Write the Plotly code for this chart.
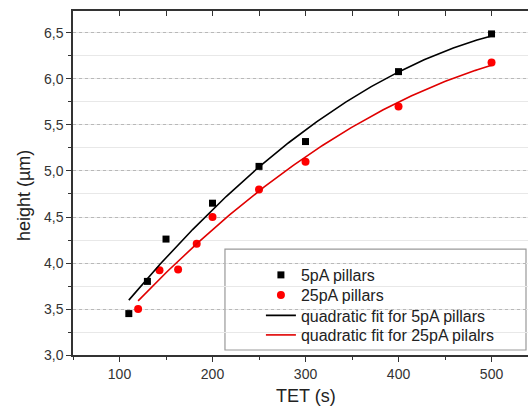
import numpy as np
import plotly.graph_objects as go

# Measured pillar heights versus exposure time
tet_5pa = [110, 130, 150, 200, 250, 300, 400, 500]
height_5pa = [3.45, 3.80, 4.26, 4.65, 5.05, 5.32, 6.08, 6.49]

tet_25pa = [120, 143, 163, 183, 200, 250, 300, 400, 500]
height_25pa = [3.50, 3.92, 3.93, 4.21, 4.50, 4.80, 5.10, 5.70, 6.18]

x_ticks = [100, 200, 300, 400, 500]
y_ticks = [3.0, 3.5, 4.0, 4.5, 5.0, 5.5, 6.0, 6.5]

FONT = "Liberation Sans, Arial, sans-serif"


def quad_fit(x, y):
    coeffs = np.polyfit(x, y, 2)
    xs = np.linspace(min(x), max(x), 200)
    return xs, np.polyval(coeffs, xs)


fit5_x, fit5_y = quad_fit(tet_5pa, height_5pa)
fit25_x, fit25_y = quad_fit(tet_25pa, height_25pa)

fig = go.Figure()
fig.add_trace(go.Scatter(x=tet_5pa, y=height_5pa, mode="markers", name="5pA pillars",
                         legend="legend",
                         marker=dict(symbol="square", size=7, color="black")))
fig.add_trace(go.Scatter(x=tet_25pa, y=height_25pa, mode="markers", name="25pA pillars",
                         legend="legend2",
                         marker=dict(symbol="circle", size=8, color="#ff0000")))
fig.add_trace(go.Scatter(x=fit5_x, y=fit5_y, mode="lines", name="quadratic fit for 5pA pillars",
                         legend="legend3",
                         line=dict(color="black", width=1.6)))
fig.add_trace(go.Scatter(x=fit25_x, y=fit25_y, mode="lines", name="quadratic fit for 25pA pilalrs",
                         legend="legend4",
                         line=dict(color="#e00000", width=1.6)))
# invisible trace carrying the top (mirror) axis
fig.add_trace(go.Scatter(x=[x_ticks[0]], y=[y_ticks[0]], xaxis="x2", mode="markers",
                         marker=dict(opacity=0), showlegend=False, hoverinfo="skip"))

# one legend per entry so the row spacing can be set freely
legend_rows = [0.2326, 0.1744, 0.1148, 0.0581]
legend_style = dict(x=0.413, xanchor="left", yanchor="middle",
                    bgcolor="rgba(0,0,0,0)", borderwidth=0,
                    font=dict(family=FONT, size=16, color="#222"), itemwidth=30)

x_range = [50, 539.2]
fig.update_layout(
    width=528, height=414,
    margin=dict(l=73, r=0, t=11, b=59),
    paper_bgcolor="white", plot_bgcolor="white",
    separators=", ",
    showlegend=True,
    font=dict(family=FONT, size=14, color="#333"),
    xaxis=dict(range=x_range, tickvals=x_ticks, ticks="outside", ticklen=5, tickwidth=1.3,
               tickcolor="#333", showline=True, linecolor="#333", linewidth=1.5,
               showgrid=False, zeroline=False,
               minor=dict(dtick=50, tick0=0, ticks="outside", ticklen=3, tickcolor="#333"),
               tickfont=dict(size=14, color="#333")),
    xaxis2=dict(range=x_range, overlaying="x", side="top", anchor="y", tickvals=x_ticks,
                ticks="inside", ticklen=5, tickwidth=1.3, tickcolor="#333",
                showticklabels=False, showline=True, linecolor="#333", linewidth=1.5,
                showgrid=False, zeroline=False,
                minor=dict(dtick=50, tick0=0, ticks="inside", ticklen=5, tickcolor="#333")),
    yaxis=dict(range=[3.0, 6.739], tickvals=y_ticks, tickformat=".1f", ticks="outside",
               ticklen=5, tickwidth=1.3, tickcolor="#333", showline=True, linecolor="#333",
               linewidth=1.5, zeroline=False,
               showgrid=True, gridcolor="#b8b8b8", griddash="dot", gridwidth=1,
               minor=dict(dtick=0.25, tick0=0, ticks="outside", ticklen=3, tickcolor="#333",
                          showgrid=True, gridcolor="#e8e8e8", griddash="solid", gridwidth=1),
               tickfont=dict(size=14, color="#333")),
    legend=dict(y=legend_rows[0], **legend_style),
    legend2=dict(y=legend_rows[1], **legend_style),
    legend3=dict(y=legend_rows[2], **legend_style),
    legend4=dict(y=legend_rows[3], **legend_style),
    shapes=[dict(type="rect", xref="paper", yref="paper", x0=0.334, x1=0.9956,
                 y0=0.0145, y1=0.308, line=dict(color="#999", width=1.2),
                 fillcolor="white", layer="below")],
    annotations=[
        dict(text="TET (s)", xref="paper", yref="paper", x=0.512, y=-0.12,
             xanchor="center", yanchor="middle", showarrow=False,
             font=dict(family=FONT, size=18, color="#222")),
        dict(text="height (µm)", xref="paper", yref="paper", x=-0.1077, y=0.465,
             xanchor="center", yanchor="middle", textangle=-90, showarrow=False,
             font=dict(family=FONT, size=18, color="#222")),
    ],
)

fig.write_html("out.html")
